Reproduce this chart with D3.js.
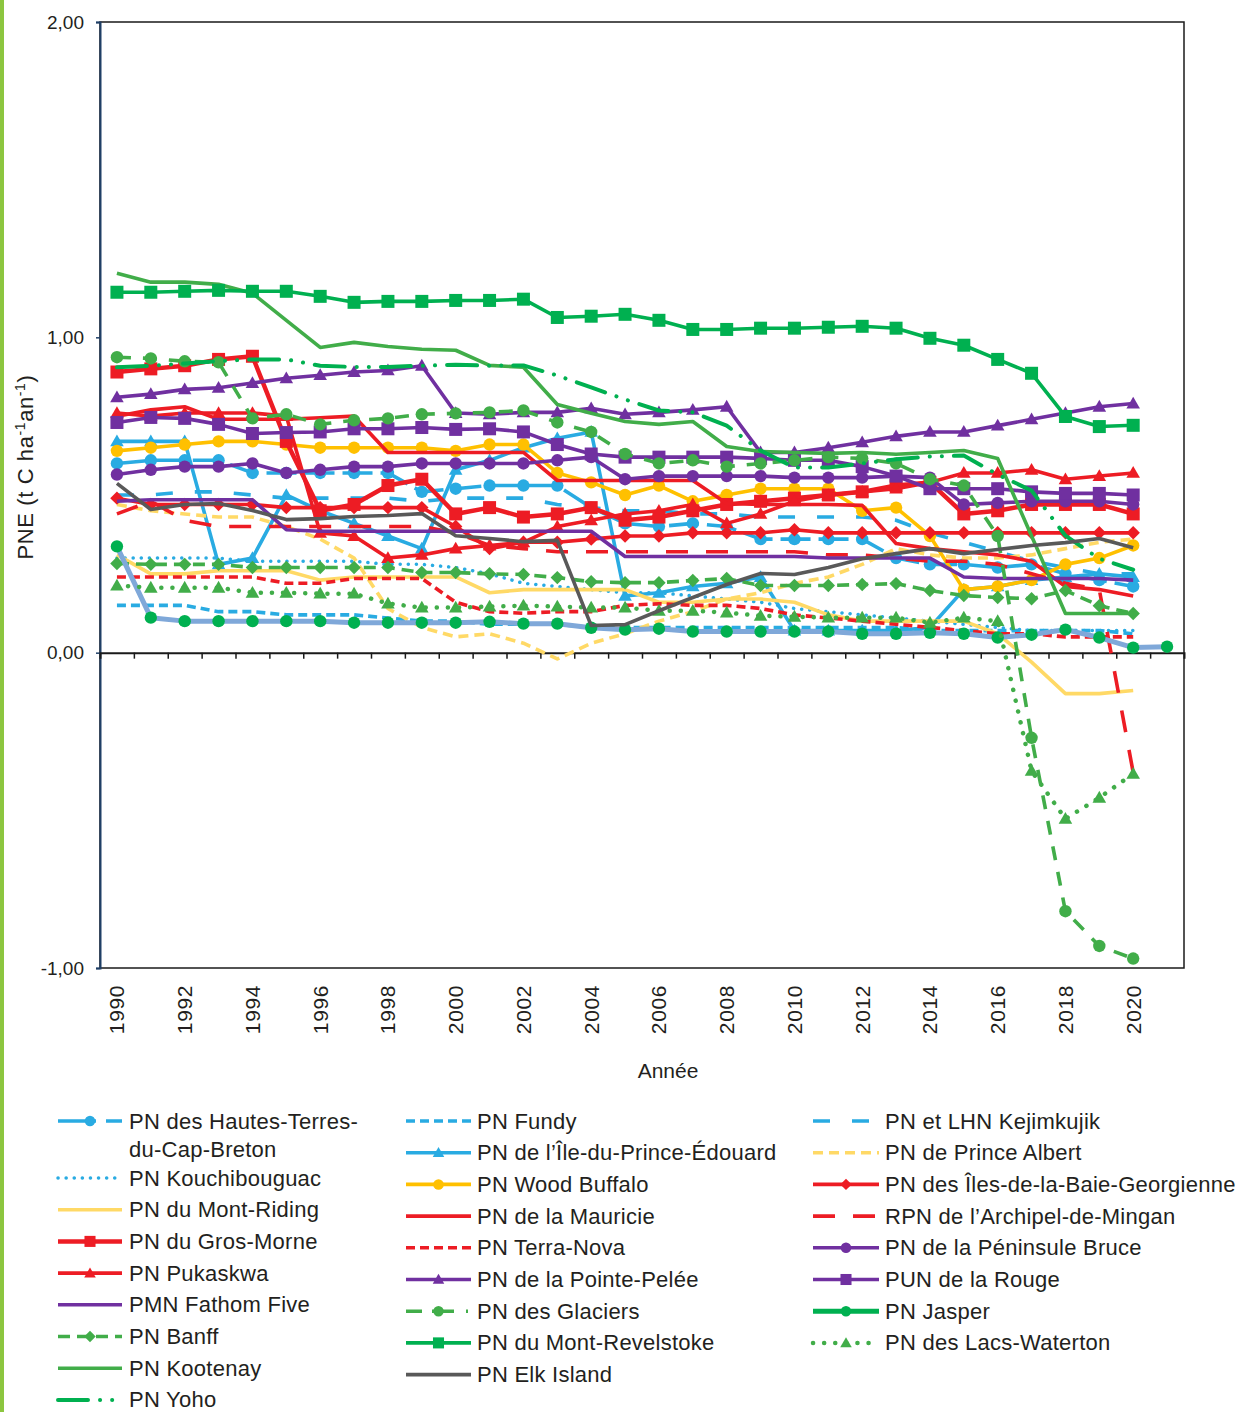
<!DOCTYPE html>
<html>
<head>
<meta charset="utf-8">
<script src="https://cdn.jsdelivr.net/npm/d3@7"></script>
<style>
  body { margin: 0; background: #fff; }
  svg { display: block; font-family: "Liberation Sans", Arial, Helvetica, sans-serif; }
</style>
</head>
<body>
<svg id="chart" width="1241" height="1412"></svg>
<script>
// DATA
const years = [1990, 1991, 1992, 1993, 1994, 1995, 1996, 1997, 1998, 1999, 2000, 2001, 2002, 2003, 2004, 2005,
  2006, 2007, 2008, 2009, 2010, 2011, 2012, 2013, 2014, 2015, 2016, 2017, 2018, 2019, 2020, 2021]
const yTicks = [-1, 0, 1, 2]
const xLabelYears = [1990, 1992, 1994, 1996, 1998, 2000, 2002, 2004, 2006, 2008, 2010, 2012, 2014, 2016, 2018, 2020]

const capeBreton = [0.60, 0.61, 0.61, 0.61, 0.57, 0.57, 0.57, 0.57, 0.57, 0.51, 0.52, 0.53, 0.53, 0.53, 0.46, 0.41,
  0.40, 0.41, 0.40, 0.36, 0.36, 0.36, 0.36, 0.30, 0.28, 0.28, 0.27, 0.28, 0.25, 0.23, 0.21]
const fundy = [0.15, 0.15, 0.15, 0.13, 0.13, 0.12, 0.12, 0.12, 0.11, 0.10, 0.10, 0.09, 0.09, 0.09, 0.08, 0.08,
  0.08, 0.08, 0.08, 0.08, 0.08, 0.08, 0.08, 0.08, 0.07, 0.07, 0.07, 0.07, 0.07, 0.07, 0.06]
const kejimkujik = [0.50, 0.50, 0.51, 0.51, 0.50, 0.49, 0.49, 0.49, 0.49, 0.48, 0.49, 0.49, 0.49, 0.47, 0.46, 0.45,
  0.45, 0.44, 0.44, 0.43, 0.43, 0.43, 0.43, 0.42, 0.38, 0.35, 0.32, 0.29, 0.27, 0.25, 0.25]
const kouchibouguac = [0.30, 0.30, 0.30, 0.30, 0.29, 0.29, 0.29, 0.29, 0.28, 0.28, 0.27, 0.25, 0.22, 0.21, 0.20, 0.19,
  0.19, 0.18, 0.17, 0.16, 0.14, 0.13, 0.12, 0.11, 0.10, 0.09, 0.08, 0.07, 0.07, 0.07, 0.07]
const princeEdward = [0.67, 0.67, 0.67, 0.28, 0.30, 0.50, 0.45, 0.41, 0.37, 0.33, 0.58, 0.61, 0.65, 0.68, 0.70, 0.18,
  0.19, 0.21, 0.22, 0.24, 0.07, 0.07, 0.07, 0.07, 0.08, 0.20, 0.21, 0.23, 0.24, 0.25, 0.24]
const princeAlbert = [0.47, 0.45, 0.44, 0.43, 0.43, 0.40, 0.36, 0.30, 0.14, 0.08, 0.05, 0.06, 0.03, -0.02, 0.03, 0.06,
  0.10, 0.13, 0.17, 0.19, 0.22, 0.24, 0.28, 0.33, 0.31, 0.30, 0.30, 0.31, 0.33, 0.35, 0.36]
const montRiding = [0.31, 0.25, 0.25, 0.26, 0.26, 0.26, 0.23, 0.24, 0.24, 0.24, 0.24, 0.19, 0.20, 0.20, 0.20, 0.20,
  0.16, 0.16, 0.17, 0.17, 0.16, 0.12, 0.10, 0.10, 0.10, 0.10, 0.06, -0.03, -0.13, -0.13, -0.12]
const woodBuffalo = [0.64, 0.65, 0.66, 0.67, 0.67, 0.66, 0.65, 0.65, 0.65, 0.65, 0.64, 0.66, 0.66, 0.57, 0.54, 0.50,
  0.53, 0.48, 0.50, 0.52, 0.52, 0.52, 0.45, 0.46, 0.37, 0.20, 0.21, 0.23, 0.28, 0.30, 0.34]
const baieGeorgienne = [0.49, 0.47, 0.47, 0.47, 0.47, 0.46, 0.46, 0.46, 0.46, 0.46, 0.40, 0.33, 0.35, 0.35, 0.36, 0.37,
  0.37, 0.38, 0.38, 0.38, 0.39, 0.38, 0.38, 0.38, 0.38, 0.38, 0.38, 0.38, 0.38, 0.38, 0.38]
const grosMorne = [0.89, 0.90, 0.91, 0.93, 0.94, 0.67, 0.45, 0.47, 0.53, 0.55, 0.44, 0.46, 0.43, 0.44, 0.46, 0.42,
  0.43, 0.45, 0.47, 0.48, 0.49, 0.50, 0.51, 0.53, 0.54, 0.44, 0.45, 0.47, 0.47, 0.47, 0.44]
const mauricie = [0.75, 0.77, 0.78, 0.74, 0.74, 0.74, 0.745, 0.75, 0.635, 0.635, 0.635, 0.635, 0.635, 0.546, 0.546, 0.546,
  0.546, 0.546, 0.473, 0.47, 0.47, 0.47, 0.467, 0.346, 0.33, 0.32, 0.31, 0.29, 0.21, 0.20, 0.18]
const mingan = [0.44, 0.48, 0.42, 0.40, 0.40, 0.40, 0.40, 0.40, 0.40, 0.40, 0.38, 0.34, 0.33, 0.32, 0.32, 0.32,
  0.32, 0.32, 0.32, 0.32, 0.32, 0.31, 0.31, 0.30, 0.29, 0.29, 0.28, 0.25, 0.22, 0.20, -0.38]
const pukaskwa = [0.76, 0.75, 0.76, 0.76, 0.76, 0.75, 0.38, 0.37, 0.30, 0.31, 0.33, 0.34, 0.35, 0.40, 0.42, 0.44,
  0.45, 0.47, 0.41, 0.44, 0.48, 0.50, 0.51, 0.52, 0.54, 0.57, 0.57, 0.58, 0.55, 0.56, 0.57]
const terraNova = [0.24, 0.24, 0.24, 0.24, 0.24, 0.22, 0.22, 0.235, 0.235, 0.235, 0.16, 0.13, 0.125, 0.13, 0.13, 0.15,
  0.155, 0.15, 0.15, 0.14, 0.12, 0.11, 0.10, 0.09, 0.08, 0.07, 0.06, 0.06, 0.05, 0.05, 0.05]
const bruce = [0.565, 0.58, 0.59, 0.59, 0.60, 0.57, 0.58, 0.59, 0.59, 0.60, 0.60, 0.60, 0.60, 0.61, 0.62, 0.55,
  0.56, 0.56, 0.56, 0.56, 0.555, 0.555, 0.555, 0.56, 0.555, 0.47, 0.475, 0.48, 0.48, 0.48, 0.47]
const fathomFive = [0.48, 0.485, 0.485, 0.485, 0.485, 0.39, 0.385, 0.385, 0.385, 0.385, 0.385, 0.385, 0.385, 0.385, 0.385, 0.305,
  0.305, 0.305, 0.305, 0.305, 0.305, 0.30, 0.30, 0.30, 0.30, 0.24, 0.235, 0.235, 0.235, 0.235, 0.23]
const pointePelee = [0.81, 0.82, 0.835, 0.84, 0.855, 0.87, 0.88, 0.89, 0.895, 0.91, 0.76, 0.756, 0.762, 0.762, 0.775, 0.756,
  0.762, 0.77, 0.78, 0.635, 0.635, 0.65, 0.667, 0.686, 0.70, 0.70, 0.72, 0.74, 0.76, 0.78, 0.79]
const rouge = [0.73, 0.746, 0.743, 0.724, 0.695, 0.698, 0.70, 0.71, 0.71, 0.714, 0.708, 0.71, 0.70, 0.66, 0.63, 0.62,
  0.62, 0.62, 0.62, 0.616, 0.61, 0.61, 0.59, 0.56, 0.52, 0.52, 0.52, 0.51, 0.505, 0.505, 0.50]
const banff = [0.283, 0.28, 0.28, 0.28, 0.27, 0.27, 0.27, 0.27, 0.27, 0.254, 0.254, 0.25, 0.248, 0.238, 0.225, 0.222,
  0.222, 0.229, 0.235, 0.213, 0.213, 0.213, 0.216, 0.219, 0.197, 0.181, 0.175, 0.171, 0.197, 0.149, 0.124]
const glaciers = [0.937, 0.933, 0.924, 0.921, 0.743, 0.756, 0.724, 0.737, 0.743, 0.756, 0.759, 0.762, 0.768, 0.73, 0.70, 0.63,
  0.60, 0.61, 0.59, 0.60, 0.61, 0.62, 0.616, 0.60, 0.55, 0.53, 0.37, -0.27, -0.82, -0.93, -0.97]
const jasper = [0.337, 0.111, 0.10, 0.10, 0.10, 0.10, 0.10, 0.095, 0.095, 0.095, 0.095, 0.098, 0.092, 0.092, 0.079, 0.073,
  0.076, 0.067, 0.067, 0.067, 0.067, 0.067, 0.06, 0.06, 0.063, 0.06, 0.048, 0.057, 0.073, 0.048, 0.016, 0.019]
const kootenay = [1.203, 1.175, 1.175, 1.168, 1.14, 1.054, 0.968, 0.984, 0.971, 0.962, 0.959, 0.911, 0.905, 0.787, 0.759, 0.733,
  0.724, 0.733, 0.654, 0.638, 0.635, 0.632, 0.635, 0.629, 0.635, 0.641, 0.616, 0.37, 0.124, 0.124, 0.124]
const revelstoke = [1.143, 1.143, 1.146, 1.149, 1.146, 1.146, 1.13, 1.111, 1.114, 1.114, 1.117, 1.117, 1.121, 1.063, 1.067, 1.073,
  1.054, 1.025, 1.025, 1.029, 1.029, 1.032, 1.035, 1.029, 0.997, 0.975, 0.93, 0.886, 0.749, 0.717, 0.721]
const waterton = [0.213, 0.206, 0.206, 0.206, 0.19, 0.19, 0.187, 0.187, 0.156, 0.143, 0.143, 0.146, 0.149, 0.146, 0.143, 0.143,
  0.133, 0.133, 0.127, 0.117, 0.114, 0.111, 0.111, 0.111, 0.095, 0.111, 0.10, -0.375, -0.527, -0.46, -0.384]
const yoho = [0.905, 0.91, 0.917, 0.925, 0.93, 0.93, 0.91, 0.906, 0.906, 0.91, 0.913, 0.91, 0.911, 0.879, 0.841, 0.803,
  0.768, 0.762, 0.72, 0.641, 0.587, 0.587, 0.60, 0.613, 0.622, 0.625, 0.565, 0.514, 0.371, 0.298, 0.263]
const elkIsland = [0.537, 0.454, 0.47, 0.473, 0.451, 0.422, 0.425, 0.432, 0.435, 0.441, 0.371, 0.362, 0.352, 0.356, 0.086, 0.089,
  0.133, 0.175, 0.216, 0.251, 0.248, 0.27, 0.298, 0.314, 0.33, 0.314, 0.327, 0.34, 0.349, 0.362, 0.333]

// STYLES
const blue = '#29abe2', paleYellow = '#ffd966', orange = '#ffc000', red = '#ed1c24'
const purple = '#7030a0', green = '#41ad49', deepGreen = '#00b050', gray = '#595959'
const textColor = '#231f20'

// drawing order = Excel series order; col/row = legend slot
const series = [
  { name: ['PN des Hautes-Terres-', 'du-Cap-Breton'], data: capeBreton, color: blue, dash: '30,8', legendDash: '38,10', marker: 'circle', col: 0, row: 0 },
  { name: ['PN Fundy'], data: fundy, color: blue, dash: '9,5', col: 1, row: 0 },
  { name: ['PN et LHN Kejimkujik'], data: kejimkujik, color: blue, dash: '17,22', col: 2, row: 0 },
  { name: ['PN Kouchibouguac'], data: kouchibouguac, color: blue, dash: '0.1,8', width: 3.5, cap: 'round', col: 0, row: 1 },
  { name: ['PN de l’Île-du-Prince-Édouard'], data: princeEdward, color: blue, marker: 'triangle', col: 1, row: 1 },
  { name: ['PN de Prince Albert'], data: princeAlbert, color: paleYellow, dash: '10,6', col: 2, row: 1 },
  { name: ['PN du Mont-Riding'], data: montRiding, color: paleYellow, col: 0, row: 2 },
  { name: ['PN Wood Buffalo'], data: woodBuffalo, color: orange, marker: 'circle', col: 1, row: 2 },
  { name: ['PN des Îles-de-la-Baie-Georgienne'], data: baieGeorgienne, color: red, marker: 'diamond', col: 2, row: 2 },
  { name: ['PN du Gros-Morne'], data: grosMorne, color: red, marker: 'square', width: 4.5, col: 0, row: 3 },
  { name: ['PN de la Mauricie'], data: mauricie, color: red, col: 1, row: 3 },
  { name: ['RPN de l’Archipel-de-Mingan'], data: mingan, color: red, dash: '22,18', col: 2, row: 3 },
  { name: ['PN Pukaskwa'], data: pukaskwa, color: red, marker: 'triangle', col: 0, row: 4 },
  { name: ['PN Terra-Nova'], data: terraNova, color: red, dash: '9,5', col: 1, row: 4 },
  { name: ['PN de la Péninsule Bruce'], data: bruce, color: purple, marker: 'circle', col: 2, row: 4 },
  { name: ['PMN Fathom Five'], data: fathomFive, color: purple, col: 0, row: 5 },
  { name: ['PN de la Pointe-Pelée'], data: pointePelee, color: purple, marker: 'triangle', col: 1, row: 5 },
  { name: ['PUN de la Rouge'], data: rouge, color: purple, marker: 'square', col: 2, row: 5 },
  { name: ['PN Banff'], data: banff, color: green, dash: '12,7', marker: 'diamond', col: 0, row: 6 },
  { name: ['PN des Glaciers'], data: glaciers, color: green, dash: '14,12', legendDash: '16,10,22,12,2,20', marker: 'circle', col: 1, row: 6 },
  { name: ['PN Jasper'], data: jasper, color: deepGreen, lineColor: '#7fa8d9', width: 5, marker: 'circle', col: 2, row: 6 },
  { name: ['PN Kootenay'], data: kootenay, color: green, col: 0, row: 7 },
  { name: ['PN du Mont-Revelstoke'], data: revelstoke, color: deepGreen, marker: 'square', col: 1, row: 7 },
  { name: ['PN des Lacs-Waterton'], data: waterton, color: green, dash: '0.1,11', width: 4.5, cap: 'round', marker: 'triangle', col: 2, row: 7 },
  { name: ['PN Yoho'], data: yoho, color: deepGreen, dash: '30,12,0.1,12,0.1,12', width: 4, cap: 'round', col: 0, row: 8 },
  { name: ['PN Elk Island'], data: elkIsland, color: gray, col: 1, row: 8 }
]

const svg = d3.select('#chart')
const plot = { left: 100, right: 1184, top: 22, bottom: 968 }

const x = d3.scalePoint().domain(years).range([plot.left, plot.right]).padding(0.5)
const xEdge = d3.scaleLinear().domain([years[0] - 0.5, years[years.length - 1] + 0.5]).range([plot.left, plot.right])
const y = d3.scaleLinear().domain([-1, 2]).range([plot.bottom, plot.top])
const frFormat = d3.formatLocale({ decimal: ',', thousands: ' ', grouping: [3], currency: ['', ' $'], minus: '-' }).format('.2f')

// green page rule on the left
svg.append('rect').attr('x', 0).attr('y', 0).attr('width', 4).attr('height', 1412).attr('fill', '#8cc63f')

// FRAME
svg.append('rect')
  .attr('x', plot.left).attr('y', plot.top)
  .attr('width', plot.right - plot.left).attr('height', plot.bottom - plot.top)
  .attr('fill', 'none').attr('stroke', '#1a1a1a').attr('stroke-width', 1.5)

// Y-AXIS
const yAxis = svg.append('g')
  .attr('transform', `translate(${plot.left} 0)`)
  .call(d3.axisLeft(y).tickValues(yTicks).tickSize(4).tickPadding(12).tickFormat(frFormat))
yAxis.select('.domain').attr('stroke', '#1f3f66').attr('stroke-width', 2)
yAxis.selectAll('.tick line').attr('stroke', '#1f3f66').attr('stroke-width', 1.5)
yAxis.selectAll('.tick text').attr('font-size', 19).attr('fill', textColor)
  .attr('font-family', '"Liberation Sans", Arial, sans-serif')

// ZERO LINE with category ticks
const xAxis = svg.append('g')
  .attr('transform', `translate(0 ${y(0)})`)
  .call(d3.axisBottom(xEdge).tickValues(years.slice(1).map(d => d - 0.5)).tickSize(6).tickFormat(''))
xAxis.select('.domain').attr('stroke', '#1a1a1a').attr('stroke-width', 2)
xAxis.selectAll('.tick line').attr('stroke', '#1a1a1a').attr('stroke-width', 1.5)

// year labels, rotated
svg.append('g')
  .selectAll('text')
  .data(xLabelYears)
  .enter().append('text')
  .attr('transform', d => `translate(${x(d) + 7.5} 985) rotate(-90)`)
  .attr('text-anchor', 'end')
  .attr('font-size', 21)
  .attr('letter-spacing', 0.6)
  .attr('fill', textColor)
  .text(d => d)

// AXIS TITLES
svg.append('text')
  .attr('x', 668).attr('y', 1078)
  .attr('text-anchor', 'middle')
  .attr('font-size', 21)
  .attr('fill', textColor)
  .text('Année')

const yTitle = svg.append('text')
  .attr('transform', 'translate(33 467) rotate(-90)')
  .attr('text-anchor', 'middle')
  .attr('font-size', 22)
  .attr('letter-spacing', 0.6)
  .attr('fill', textColor)
yTitle.append('tspan').text('PNE (t C ha')
yTitle.append('tspan').attr('font-size', 14).attr('dy', -8).text('-1')
yTitle.append('tspan').attr('dy', 8).text('an')
yTitle.append('tspan').attr('font-size', 14).attr('dy', -8).text('-1')
yTitle.append('tspan').attr('dy', 8).text(')')

// MARKERS
const drawMarker = (g, type, cx, cy, color, scale = 1) => {
  if (type === 'circle') {
    g.append('circle').attr('cx', cx).attr('cy', cy).attr('r', 6.2 * scale).attr('fill', color)
  } else if (type === 'square') {
    const s = 13 * scale
    g.append('rect').attr('x', cx - s / 2).attr('y', cy - s / 2).attr('width', s).attr('height', s).attr('fill', color)
  } else if (type === 'triangle') {
    g.append('path')
      .attr('d', d3.symbol(d3.symbolTriangle, 80 * scale * scale)())
      .attr('transform', `translate(${cx} ${cy + 1})`)
      .attr('fill', color)
  } else if (type === 'diamond') {
    const s = 9.5 * scale
    g.append('rect').attr('x', -s / 2).attr('y', -s / 2).attr('width', s).attr('height', s)
      .attr('transform', `translate(${cx} ${cy}) rotate(45)`)
      .attr('fill', color)
  }
}

const styleLine = (sel, s) => sel
  .attr('fill', 'none')
  .attr('stroke', s.lineColor || s.color)
  .attr('stroke-width', s.width || 3.6)
  .attr('stroke-dasharray', s.dash || null)
  .attr('stroke-linecap', s.cap || 'butt')
  .attr('stroke-linejoin', 'round')

// LINES
const line = d3.line()
  .defined(d => d != null)
  .x((d, i) => x(years[i]))
  .y(d => y(d))

const linesG = svg.append('g').attr('class', 'lines')
series.forEach(s => {
  const g = linesG.append('g')
  g.append('path').datum(s.data).attr('d', line).call(styleLine, s)
  if (s.marker) {
    s.data.forEach((v, i) => drawMarker(g, s.marker, x(years[i]), y(v), s.color))
  }
})

// LEGEND
const legendCols = [{ x0: 58, x1: 122, tx: 129 }, { x0: 406, x1: 471, tx: 477 }, { x0: 813, x1: 879, tx: 885 }]
const rowY = (col, row) => col === 0 && row > 0 ? 1178 + (row - 1) * 31.7 : 1121 + row * 31.7

const legend = svg.append('g').attr('class', 'legend')
series.forEach(s => {
  const c = legendCols[s.col]
  const cy = rowY(s.col, s.row)
  const g = legend.append('g')
  g.append('line').attr('x1', c.x0).attr('x2', c.x1).attr('y1', cy).attr('y2', cy)
    .call(styleLine, Object.assign({}, s, { lineColor: s.color, dash: s.legendDash || s.dash }))
  if (s.marker) drawMarker(g, s.marker, (c.x0 + c.x1) / 2, cy, s.color, 0.85)
  s.name.forEach((t, k) => {
    g.append('text')
      .attr('x', c.tx).attr('y', cy + 7.5 + k * 28)
      .attr('font-size', 22)
      .attr('letter-spacing', 0.25)
      .attr('fill', textColor)
      .text(t)
  })
})
</script>
</body>
</html>
